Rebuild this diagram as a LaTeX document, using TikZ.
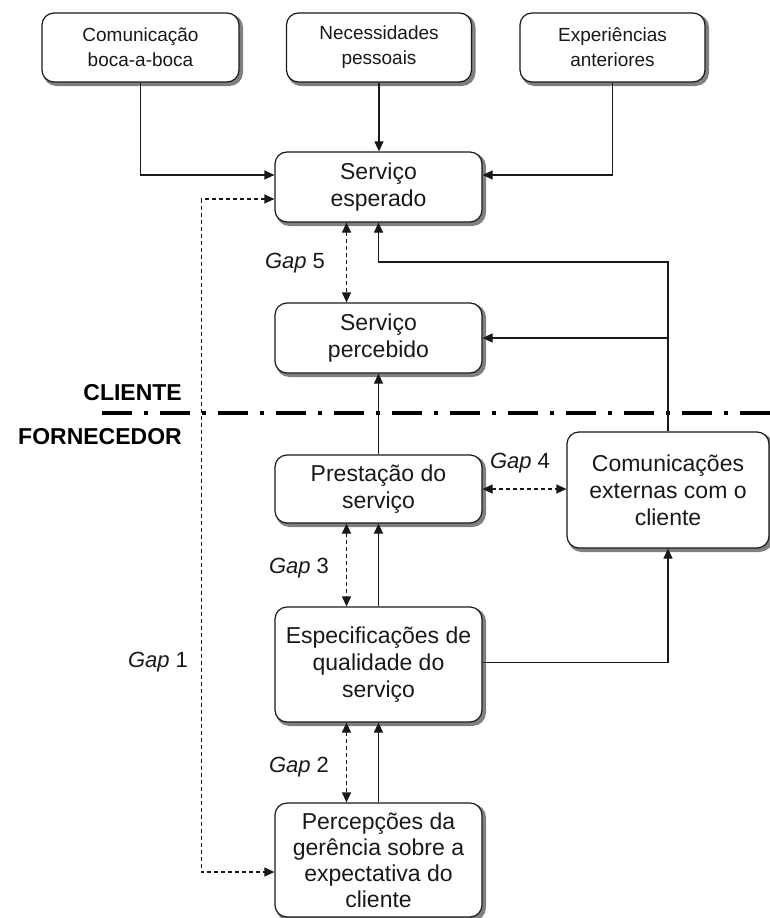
\documentclass[tikz,border=0pt]{standalone}
\usepackage{fontspec}
\setmainfont{Liberation Sans}
\usetikzlibrary{arrows.meta,calc}
\begin{document}
\begin{tikzpicture}[x=1pt,y=-1pt,
  box/.style={draw=black!90, line width=1.2pt, rounded corners=12pt, fill=white, align=center, inner sep=0pt, text=black!90,
    preaction={draw=black!50, line width=3pt, fill=black!50, transform canvas={xshift=2.5pt, yshift=-2.5pt}}},
  small/.style={box, font=\fontsize{19}{25}\selectfont},
  big/.style={box, font=\fontsize{23}{27}\selectfont},
  arr/.style={line width=1.2pt, draw=black!90, -{Triangle[length=10pt,width=9pt]}},
  darr/.style={line width=1.2pt, draw=black!90, dash pattern=on 4pt off 3pt, {Triangle[length=10pt,width=9pt]}-{Triangle[length=10pt,width=9pt]}},
  gaplbl/.style={font=\fontsize{22}{26}\selectfont, text=black!90},
  side/.style={font=\fontsize{23}{26}\selectfont\bfseries, anchor=east, inner sep=0pt}
]
\useasboundingbox (0,0) rectangle (770,918);
\fill[white] (0,0) rectangle (770,918);

% separator
\coordinate (sepL) at (102,413);
\coordinate (sepR) at (770,413);
\draw[line width=4pt, dash pattern=on 30pt off 12pt on 4pt off 12pt] (sepL) -- (sepR);
\node[side] (cli) at (182,393) {CLIENTE};
\node[side] (forn) at (182,437) {FORNECEDOR};

% boxes
\node[small, minimum width=197pt, minimum height=69pt] (A) at (140.5,47.5) {Comunicação\\boca-a-boca};
\node[small, minimum width=185pt, minimum height=69pt] (B) at (379,47.5) {Necessidades\\pessoais};
\node[small, minimum width=185pt, minimum height=69pt] (C) at (612.5,47.5) {Experiências\\anteriores};
\node[big, minimum width=207pt, minimum height=70pt] (esp) at (378.5,187) {Serviço\\esperado};
\node[big, minimum width=207pt, minimum height=70pt] (perc) at (378.5,338) {Serviço\\percebido};
\node[big, minimum width=207pt, minimum height=68pt] (prest) at (378.5,489) {Prestação do\\serviço};
\node[big, minimum width=202pt, minimum height=116pt] (comm) at (668,490) {Comunicações\\externas com o\\cliente};
\node[big, minimum width=207pt, minimum height=115pt] (espec) at (378.5,664.5) {Especificações de\\qualidade do\\serviço};
\node[big, minimum width=207pt, minimum height=114pt, font=\fontsize{23}{26}\selectfont] (percep) at (378.5,860) {Percepções da\\gerência sobre a\\expectativa do\\cliente};

% top inputs
\draw[arr] (A.south) |- ($(esp.west)+(0,-12)$);
\draw[arr] (B.south) -- (B.south |- esp.north);
\draw[arr] (C.south) |- ($(esp.east)+(0,-12)$);

% gap 1
\draw[darr] ($(esp.west)+(0,12)$) -- ++(-73,0) |- ($(percep.west)+(0,12)$);

% gap 5
\draw[darr] ($(esp.south)+(-32,0)$) -- ($(perc.north)+(-32,0)$);

% communications to expected / perceived
\draw[arr] (comm.north) -- (comm.north |- 0,262) -| (esp.south);
\draw[arr] (comm.north |- perc.east) -- (perc.east);

% delivery to perceived
\draw[arr] (prest.north) -- (perc.south);

% gap 4
\draw[darr] (prest.east) -- (comm.west |- prest.east);

% gap 3
\draw[darr] ($(prest.south)+(-32,0)$) -- ($(espec.north)+(-32,0)$);
\draw[arr] (espec.north) -- (prest.south);

% specs to communications
\draw[arr] ($(espec.east)+(0,-2)$) -| (comm.south);

% gap 2
\draw[darr] ($(espec.south)+(-32,0)$) -- ($(percep.north)+(-32,0)$);
\draw[arr] (percep.north) -- (espec.south);

% gap labels
\node[gaplbl] (g5) at (295,263) {\textit{Gap} 5};
\node[gaplbl] (g4) at (520,463) {\textit{Gap} 4};
\node[gaplbl] (g3) at (299,568) {\textit{Gap} 3};
\node[gaplbl] (g2) at (299,767) {\textit{Gap} 2};
\node[gaplbl] (g1) at (158,662) {\textit{Gap} 1};
\end{tikzpicture}
\end{document}
